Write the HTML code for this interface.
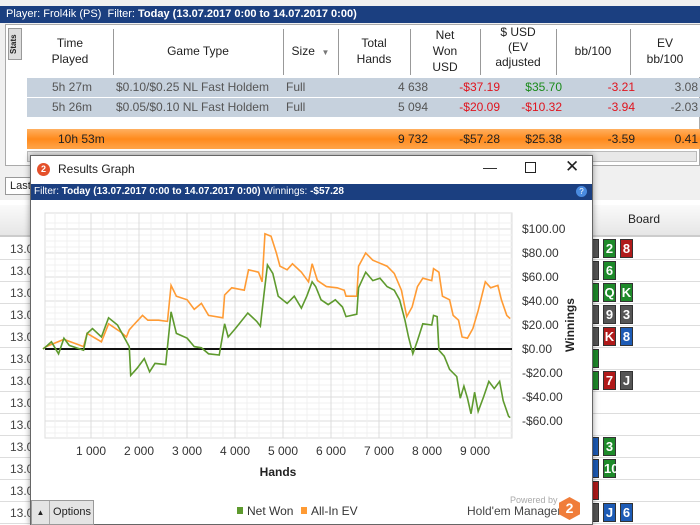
<!DOCTYPE html>
<html><head><meta charset="utf-8"><style>
*{box-sizing:border-box;margin:0;padding:0}
body{width:700px;height:525px;overflow:hidden;position:relative;background:#f0f0f0;font-family:"Liberation Sans",sans-serif;font-size:12px;color:#222}
.abs{position:absolute}
.hdr{left:0;top:6px;width:700px;height:17px;background:#1b3f80;color:#fff;font-size:11px;line-height:17px;padding-left:6px}
.th{position:absolute;text-align:center;font-size:12px;line-height:16px;color:#222}
.row{position:absolute;left:27px;width:673px;height:19px;background:#c6d1dd;font-size:12px;line-height:19px;color:#555}
.c{position:absolute;text-align:right}
.card{position:absolute;width:13px;height:19px;border:1px solid #333;color:#fff;font-weight:bold;font-size:13px;text-align:center;line-height:18px}
.g{background:#1e8a2a}.r{background:#b01a1a}.k{background:#555}.b{background:#1d5bb5}
.lrow{position:absolute;left:0;width:700px;height:22px;border-bottom:1px solid #ddd;background:#fff;font-size:12px;line-height:22px;color:#444;padding-left:10px}
</style></head><body>
<div class="abs hdr">Player: <b style="font-weight:normal">Frol4ik (PS)</b> &nbsp;Filter: <b>Today (13.07.2017 0:00 to 14.07.2017 0:00)</b></div>
<div class="abs" style="left:5px;top:24px;width:695px;height:142px;background:#fff;border:1px solid #aaa"></div>
<div class="abs" style="left:8px;top:28px;width:14px;height:32px;background:#ddd;border:1px solid #999;font-size:8px;writing-mode:vertical-rl;transform:rotate(180deg);text-align:center;font-weight:bold">Stats</div>
<div class="abs" style="left:27px;top:25px;width:673px;height:52px;background:#fff">
<div class="th" style="left:0;width:86px;top:10px">Time<br>Played</div>
<div class="th" style="left:86px;width:170px;top:18px">Game Type</div>
<div class="th" style="left:256px;width:55px;top:18px">Size &nbsp;<span style="font-size:8px;color:#777">▼</span></div>
<div class="th" style="left:311px;width:72px;top:10px">Total<br>Hands</div>
<div class="th" style="left:383px;width:70px;top:2px">Net<br>Won<br>USD</div>
<div class="th" style="left:453px;width:76px;top:0px;line-height:15px">$ USD<br>(EV<br>adjusted</div>
<div class="th" style="left:529px;width:74px;top:18px">bb/100</div>
<div class="th" style="left:603px;width:70px;top:10px">EV<br>bb/100</div>
<div class="abs" style="left:86px;top:4px;width:1px;height:46px;background:#999"></div>
<div class="abs" style="left:256px;top:4px;width:1px;height:46px;background:#999"></div>
<div class="abs" style="left:311px;top:4px;width:1px;height:46px;background:#999"></div>
<div class="abs" style="left:383px;top:4px;width:1px;height:46px;background:#999"></div>
<div class="abs" style="left:453px;top:4px;width:1px;height:46px;background:#999"></div>
<div class="abs" style="left:529px;top:4px;width:1px;height:46px;background:#999"></div>
<div class="abs" style="left:603px;top:4px;width:1px;height:46px;background:#999"></div>
</div>
<div class="row" style="top:78px">
<span class="c" style="right:608px">5h 27m</span><span class="abs" style="left:89px">$0.10/$0.25 NL Fast Holdem</span><span class="abs" style="left:259px">Full</span>
<span class="c" style="right:272px">4 638</span><span class="c" style="right:200px;color:#e0141e">-$37.19</span><span class="c" style="right:138px;color:#1a8a1a">$35.70</span><span class="c" style="right:65px;color:#e0141e">-3.21</span><span class="c" style="right:2px">3.08</span></div>
<div class="row" style="top:98px">
<span class="c" style="right:608px">5h 26m</span><span class="abs" style="left:89px">$0.05/$0.10 NL Fast Holdem</span><span class="abs" style="left:259px">Full</span>
<span class="c" style="right:272px">5 094</span><span class="c" style="right:200px;color:#e0141e">-$20.09</span><span class="c" style="right:138px;color:#e0141e">-$10.32</span><span class="c" style="right:65px;color:#e0141e">-3.94</span><span class="c" style="right:2px">-2.03</span></div>
<div class="row" style="top:129px;height:20px;background:linear-gradient(#ffb060,#ff8a1c 50%,#ffa54a);color:#222;line-height:20px">
<span class="abs" style="left:31px">10h 53m</span>
<span class="c" style="right:272px">9 732</span><span class="c" style="right:200px">-$57.28</span><span class="c" style="right:138px">$25.38</span><span class="c" style="right:65px">-3.59</span><span class="c" style="right:2px">0.41</span></div>
<div class="abs" style="left:27px;top:151px;width:670px;height:11px;background:#e8e8e8;border:1px solid #bbb"></div>
<div class="abs" style="left:5px;top:177px;width:40px;height:18px;background:#fff;border:1px solid #999;font-size:11px;line-height:16px;padding-left:4px">Last</div>
<div class="abs" style="left:0;top:200px;width:700px;height:325px;background:#fff">
<div class="abs" style="left:0;top:5px;width:700px;height:32px;background:linear-gradient(#fafafa,#e6e6e6);border-bottom:2px solid #ccc"></div>
<div class="abs" style="left:628px;top:12px;font-size:12px">Board</div>
</div>
<div id="lrows"></div>
<!-- dialog -->
<div class="abs" style="left:30px;top:155px;width:563px;height:370px;background:#fff;border:1px solid #666;box-shadow:0 0 6px rgba(0,0,0,.4)">
<div class="abs" style="left:6px;top:7px;width:13px;height:13px;border-radius:50%;background:#e4502a;color:#fff;font-size:9px;font-weight:bold;text-align:center;line-height:13px">2</div>
<div class="abs" style="left:27px;top:6px;font-size:12px">Results Graph</div>
<div class="abs" style="left:452px;top:3px;font-size:14px">—</div>
<div class="abs" style="left:494px;top:6px;width:11px;height:11px;border:1px solid #222"></div>
<div class="abs" style="left:534px;top:1px;font-size:17px">✕</div>
<div class="abs" style="left:0;top:28px;width:561px;height:16px;background:#1b3f80;color:#fff;font-size:10px;line-height:16px;padding-left:3px">Filter: <b>Today (13.07.2017 0:00 to 14.07.2017 0:00)</b> Winnings: <b>-$57.28</b>
<span class="abs" style="right:5px;top:2px;width:11px;height:11px;border-radius:50%;background:#4a8be0;font-size:8px;text-align:center;line-height:11px">?</span></div>
</div>
<svg class="abs" style="left:0;top:0" width="700" height="525" id="chart"></svg>
<div class="abs" style="left:31px;top:500px;width:63px;height:25px;background:#e4e4e4;border:1px solid #999;font-size:11px;line-height:23px"><span style="display:inline-block;width:18px;text-align:center;font-size:8px;border-right:1px solid #aaa">▲</span> Options</div>
<div class="abs" style="left:510px;top:495px;font-size:9px;color:#aaa">Powered by</div>
<div class="abs" style="left:467px;top:504px;font-size:12px;color:#444">Hold'em Manager</div>
<div class="abs" style="left:559px;top:497px;width:21px;height:23px;background:#f07d3a;clip-path:polygon(50% 0,100% 25%,100% 75%,50% 100%,0 75%,0 25%);color:#fff;font-weight:bold;font-size:14px;text-align:center;line-height:23px">2</div>
<script>
const cardsData=[[["k",""],["g","2"],["r","8"]],[["k",""],["g","6"]],[["g",""],["g","Q"],["g","K"]],[["k",""],["k","9"],["k","3"]],[["k",""],["r","K"],["b","8"]],[["g",""]],[["g",""],["r","7"],["k","J"]],[],[],[["b",""],["g","3"]],[["b",""],["g","10"]],[["r",""]],[["k",""],["b","J"],["b","6"]]];
const lr=document.getElementById('lrows');
cardsData.forEach((cs,i)=>{const y=238+i*22;
const d=document.createElement('div');d.className='lrow';d.style.top=y+'px';d.textContent='13.0';


lr.appendChild(d);
cs.forEach((c,j)=>{const e=document.createElement('div');e.className='card '+c[0];
e.style.left=(j==0?586:586+j*17)+'px';e.style.top=(y+1)+'px';e.textContent=c[1];


lr.appendChild(e);});});

const greenHands=[0,64,175,324,436,547,845,919,1031,1217,1366,1552,1701,1797,1827,1961,2110,2221,2333,2556,2668,2779,3003,3151,3300,3449,3672,3784,3858,4007,4267,4453,4528,4602,4676,4788,4900,5086,5235,5383,5495,5607,5681,5793,5941,6090,6239,6313,6537,6574,6723,6871,7020,7169,7318,7429,7541,7615,7705,7801,7913,8099,8136,8211,8248,8359,8471,8620,8694,8769,8843,8917,8992,9066,9178,9289,9401,9513,9587,9699,9732];
const greenVals=[0,2,6,-4,9,3,-1,13,17,10,26,20,9,2,-22,-16,-8,-19,-12,-13,31,13,9,2,1,-4,-5,21,10,17,30,23,19,45,70,63,44,38,44,34,44,56,52,41,37,41,35,27,29,51,64,57,59,52,49,41,24,10,-4,7,21,20,28,27,-1,-6,-17,-23,-41,-31,-41,-54,-36,-52,-40,-27,-33,-27,-43,-56,-57.28];
const orangeHands=[0,64,436,845,919,1217,1366,1626,1738,1797,1887,2073,2184,2407,2593,2668,2779,3003,3151,3300,3449,3747,3784,3932,4193,4282,4490,4565,4624,4751,4862,4937,5086,5197,5383,5532,5607,5718,5904,6127,6276,6313,6537,6574,6723,6871,7169,7318,7467,7578,7690,7801,7913,8099,8136,8248,8322,8471,8545,8657,8731,8843,8955,9066,9215,9327,9476,9550,9662,9732];
const orangeVals=[0,2,8,2,13,6,21,14,10,16,20,28,24,24,23,53,44,41,33,38,28,26,45,51,49,66,64,56,96,94,80,69,66,71,64,56,71,57,52,51,49,44,44,69,80,74,69,63,49,27,35,52,59,57,67,64,44,41,28,24,10,9,17,32,56,51,53,41,28,25.38];
const xTicks=[1000,2000,3000,4000,5000,6000,7000,8000,9000];
const xTickLabels=["1 000","2 000","3 000","4 000","5 000","6 000","7 000","8 000","9 000"];
const yTicks=[100,80,60,40,20,0,-20,-40,-60];
const yTickLabels=["$100.00","$80.00","$60.00","$40.00","$20.00","$0.00","-$20.00","-$40.00","-$60.00"];

const X0=45,X1=512,Y0=213,Y1=438;
const xs=h=>43+h*0.048;
const ys=v=>349-v*1.2;
const svg=document.getElementById('chart');const NS='http://www.w3.org/2000/svg';
function mk(t,a,p){const e=document.createElementNS(NS,t);for(const k in a)e.setAttribute(k,a[k]);(p||svg).appendChild(e);return e;}
const bg=mk('rect',{x:X0,y:Y0,width:X1-X0,height:Y1-Y0,fill:'#fff',stroke:'#ddd'});


for(let v=-70;v<=105;v+=5){const y=ys(v);if(y<Y0||y>Y1)continue;mk('line',{x1:X0,x2:X1,y1:y,y2:y,stroke:v%20==0?'#dcdcdc':'#f0f0f0','stroke-width':1});}
for(let h=0;h<=9800;h+=250){const x=xs(h);if(x<X0||x>X1)continue;mk('line',{x1:x,x2:x,y1:Y0,y2:Y1,stroke:h%1000==0?'#dcdcdc':'#f0f0f0','stroke-width':1});}
const z=mk('line',{x1:X0,x2:X1,y1:ys(0),y2:ys(0),stroke:'#111','stroke-width':2});


function series(H,V,col,name){let pts=[];for(let i=0;i<H.length;i++){pts.push(xs(H[i])+','+ys(V[i]));}
const p=mk('polyline',{points:pts.join(' '),fill:'none',stroke:col,'stroke-width':1.6});

}
series(orangeHands,orangeVals,'#ff9b34','all-in-ev-line');
series(greenHands,greenVals,'#5e9a2e','net-won-line');
xTicks.forEach((h,i)=>{const t=mk('text',{x:xs(h),y:455,'text-anchor':'middle','font-size':12,fill:'#333','font-family':'Liberation Sans'});t.textContent=xTickLabels[i];

});
yTicks.forEach((v,i)=>{const t=mk('text',{x:522,y:ys(v)+4,'font-size':12,fill:'#333','font-family':'Liberation Sans'});t.textContent=yTickLabels[i];

});
const xt=mk('text',{x:278,y:476,'text-anchor':'middle','font-size':12,'font-weight':'bold',fill:'#222','font-family':'Liberation Sans'});xt.textContent='Hands';


const yt=mk('text',{x:574,y:325,'text-anchor':'middle','font-size':12,'font-weight':'bold',fill:'#222','font-family':'Liberation Sans',transform:'rotate(-90 574 325)'});yt.textContent='Winnings';


[['#5e9a2e','Net Won',237],['#ff9b34','All-In EV',301]].forEach(l=>{mk('rect',{x:l[2],y:507,width:6,height:7,fill:l[0]});
const t=mk('text',{x:l[2]+10,y:515,'font-size':12,fill:'#333','font-family':'Liberation Sans'});t.textContent=l[1];

});
</script>
</body></html>
